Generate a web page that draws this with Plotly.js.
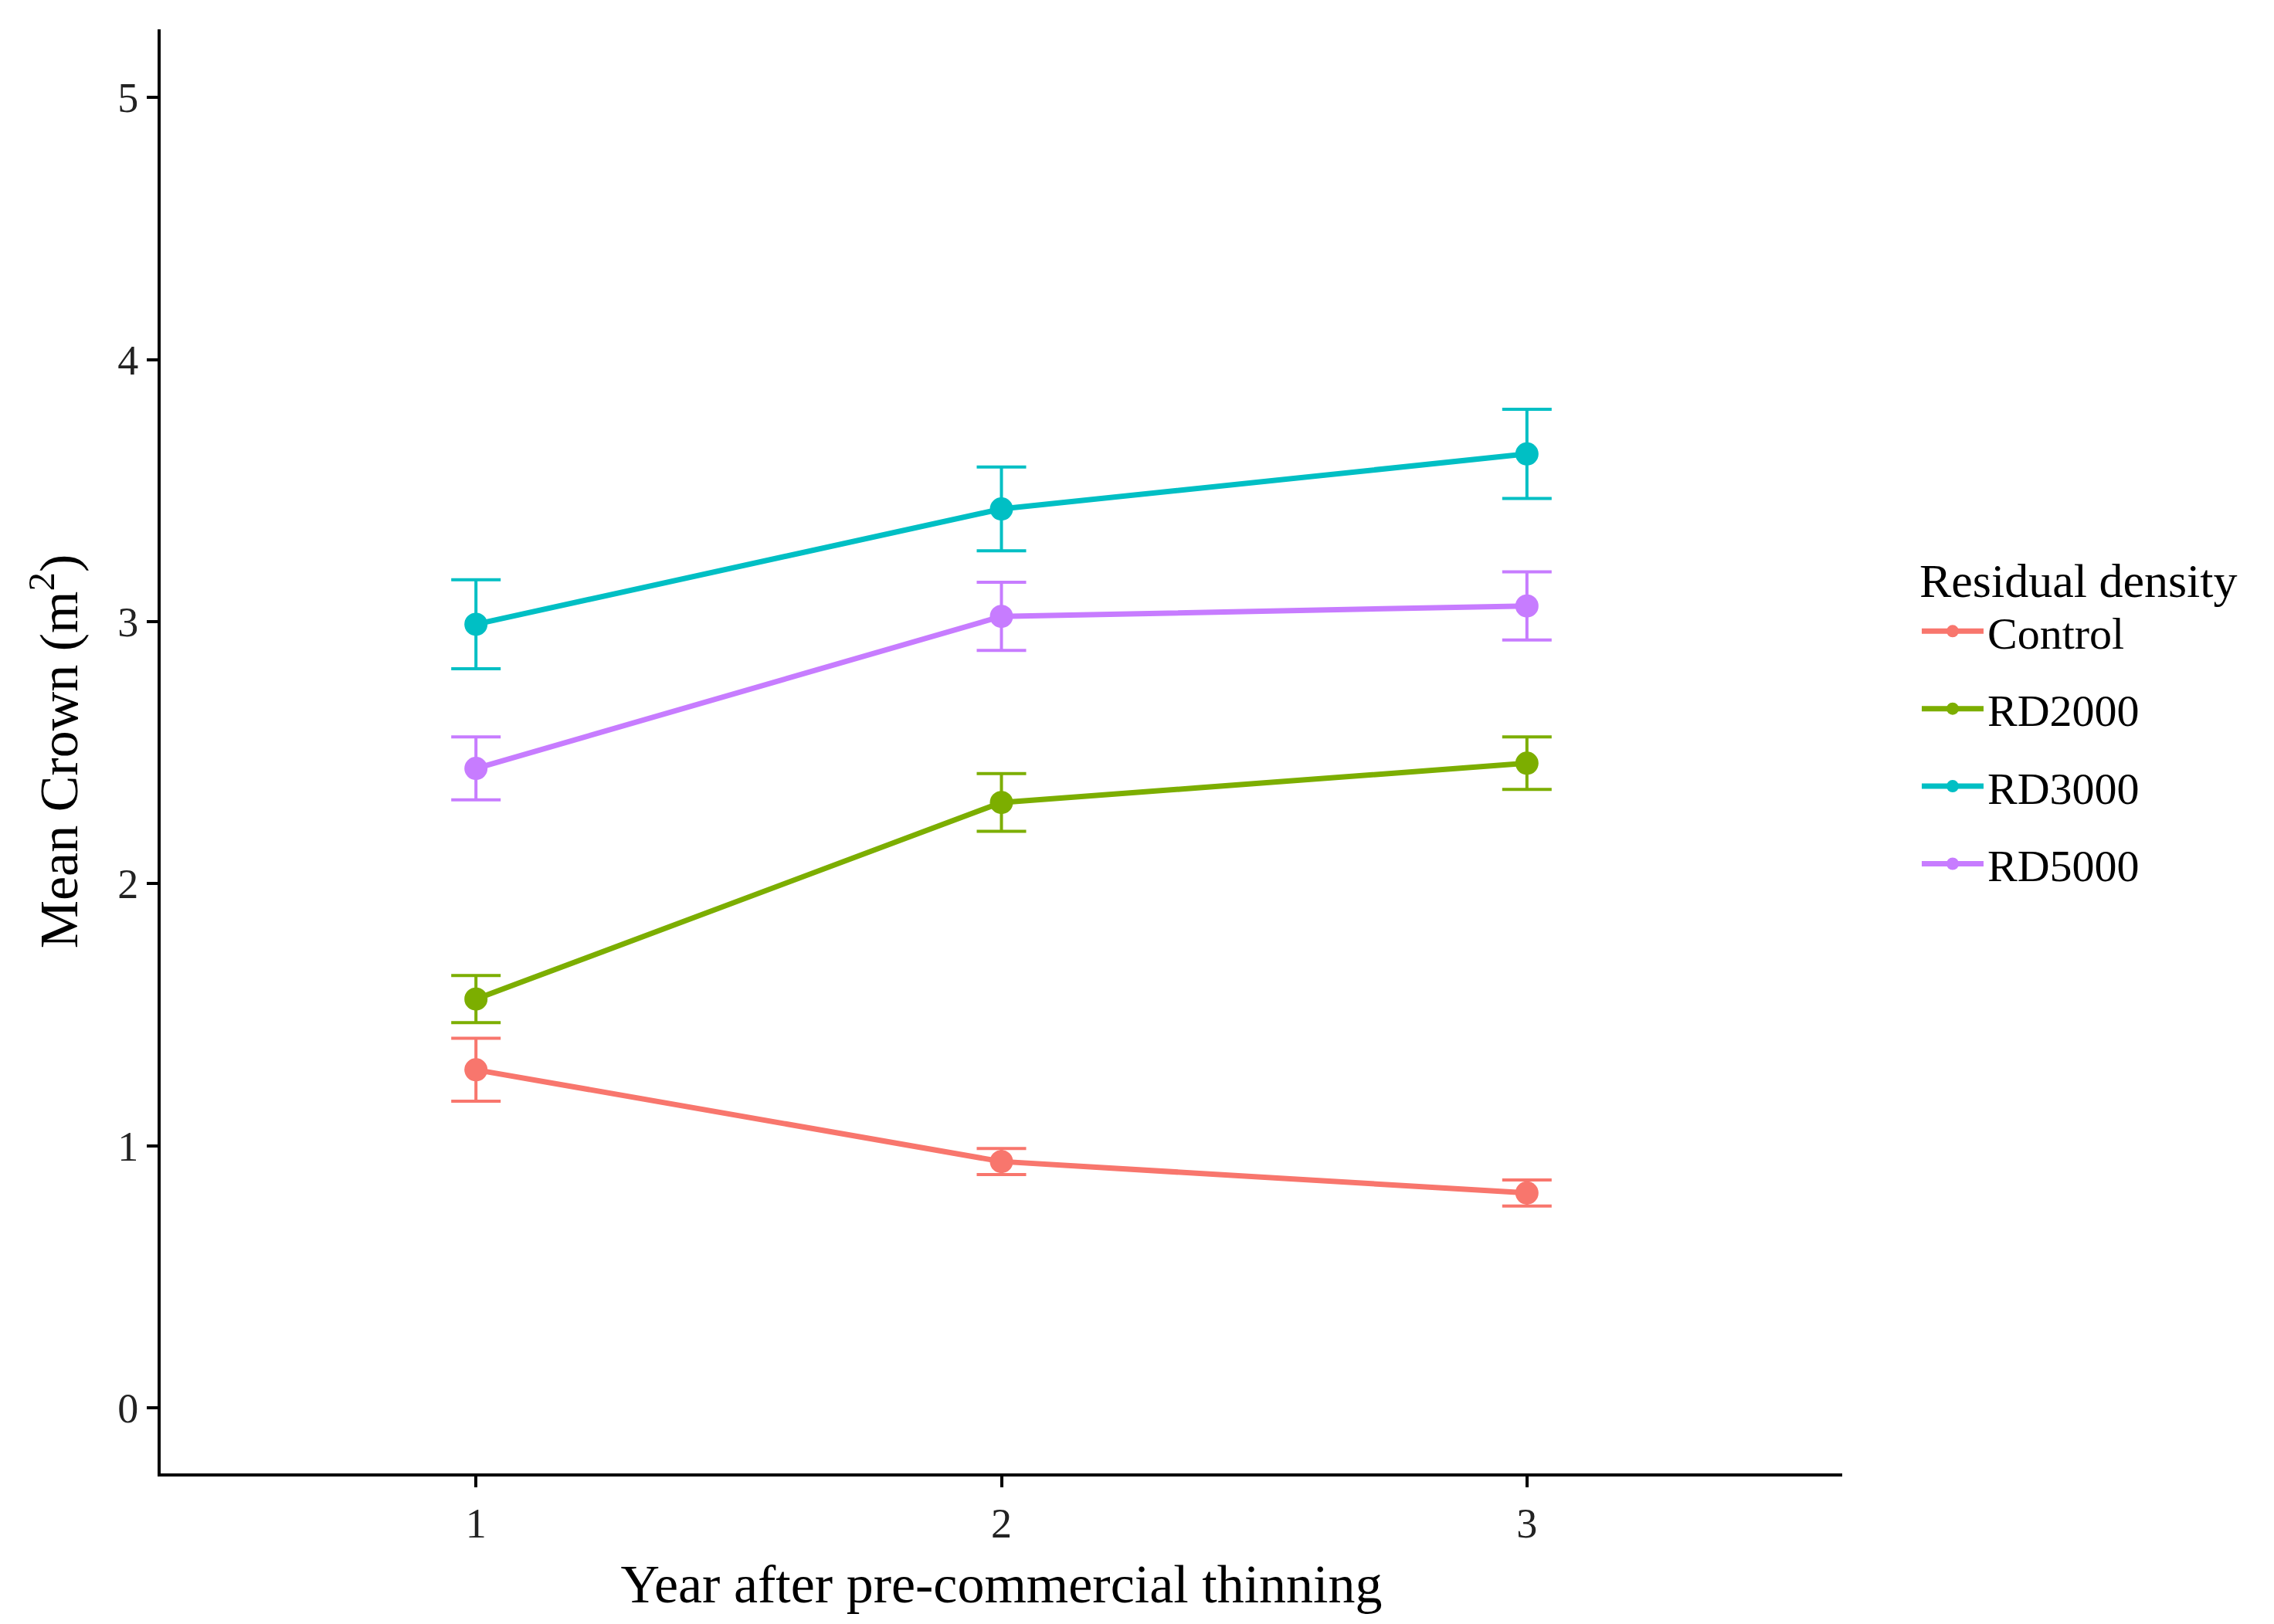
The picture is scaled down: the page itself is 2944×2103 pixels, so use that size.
<!DOCTYPE html>
<html>
<head>
<meta charset="utf-8">
<script src="https://cdn.plot.ly/plotly-3.0.1.min.js"></script>
<style>body{margin:0;background:#fff}#chart{width:2944px;height:2103px}</style>
</head>
<body>
<div id="chart"></div>
<script>
// Wartości
const years = [1, 2, 3];
const groups = ['Control', 'RD2000', 'RD3000', 'RD5000'];
const colors = ['#F8766D', '#7CAE00', '#00BFC4', '#C77CFF'];
const controlMean = [1.29, 0.94, 0.82];
const controlErr  = [0.12, 0.05, 0.05];
const rd2000Mean  = [1.56, 2.31, 2.46];
const rd2000Err   = [0.09, 0.11, 0.10];
const rd3000Mean  = [2.99, 3.43, 3.64];
const rd3000Err   = [0.17, 0.16, 0.17];
const rd5000Mean  = [2.44, 3.02, 3.06];
const rd5000Err   = [0.12, 0.13, 0.13];

const means = [controlMean, rd2000Mean, rd3000Mean, rd5000Mean];
const errs  = [controlErr, rd2000Err, rd3000Err, rd5000Err];

const traces = groups.map((g, i) => ({
  x: years, y: means[i], name: g, type: 'scatter', mode: 'lines+markers',
  legendgroup: g,
  line: { color: colors[i], width: 7 },
  marker: { color: colors[i], size: 30 },
  error_y: { type: 'data', array: errs[i], visible: true, color: colors[i], thickness: 4, width: 32 }
}));

const fam = 'Liberation Serif, Times New Roman, serif';
Plotly.newPlot('chart', traces, {
  width: 2944, height: 2103,
  paper_bgcolor: '#fff', plot_bgcolor: '#fff',
  margin: { l: 208, r: 559, t: 38, b: 195 },
  font: { family: fam, size: 52, color: '#000' },
  xaxis: {
    range: [0.4, 3.6], tickvals: years, ticktext: ['1', '2', '3'],
    showgrid: false, zeroline: false, showline: true, linecolor: '#000', linewidth: 4,
    ticks: 'outside', ticklen: 14, tickwidth: 4, tickcolor: '#000',
    tickfont: { family: fam, size: 54, color: '#222' },
    title: { text: 'Year after pre-commercial thinning', font: { family: fam, size: 70, color: '#000' }, standoff: 25 }
  },
  yaxis: {
    range: [-0.25, 5.26], tickvals: [0, 1, 2, 3, 4, 5],
    showgrid: false, zeroline: false, showline: true, linecolor: '#000', linewidth: 4,
    ticks: 'outside', ticklen: 14, tickwidth: 4, tickcolor: '#000',
    tickfont: { family: fam, size: 54, color: '#222' },
    title: { text: 'Mean Crown (m<sup>2</sup>)', font: { family: fam, size: 70, color: '#000' }, standoff: 30 }
  },
  showlegend: true,
  legend: {
    x: 1.045, y: 0.65, xanchor: 'left', yanchor: 'top',
    font: { family: fam, size: 58, color: '#000' }, tracegroupgap: 22, itemwidth: 80,
    title: { text: 'Residual density', font: { family: fam, size: 62, color: '#000' } }
  }
}, { displayModeBar: false });
</script>
</body>
</html>
